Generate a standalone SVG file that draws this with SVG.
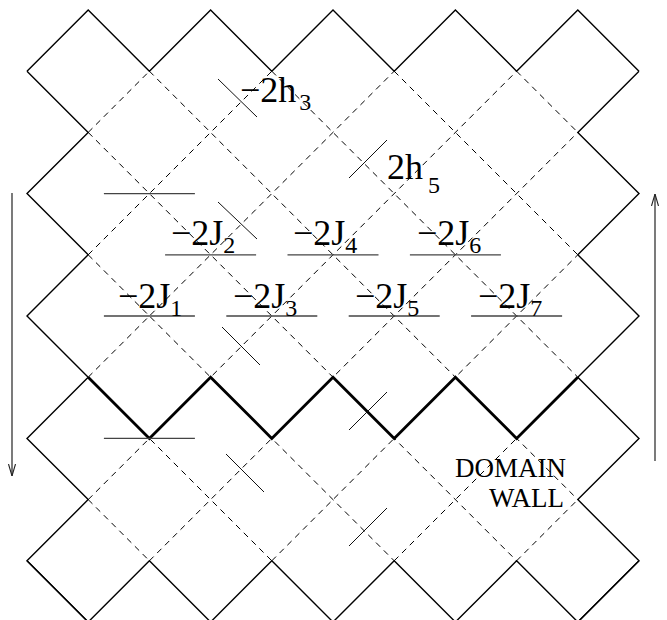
<svg xmlns="http://www.w3.org/2000/svg" width="667" height="620" viewBox="0 0 667 620">
<defs>
<style>
.edge{fill:none;stroke:#000;stroke-width:1.4;stroke-linejoin:miter}
.wall{fill:none;stroke:#000;stroke-width:2.8;stroke-linejoin:miter}
.dash{fill:none;stroke:#000;stroke-width:1;stroke-dasharray:6,5}
.bar{stroke:#444;stroke-width:1.3}
.tick{stroke:#111;stroke-width:1}
.arrow{stroke:#222;stroke-width:1.2;fill:none}
.lbl{font-family:"Liberation Serif","Times New Roman",serif;font-size:36px;fill:#000}
.sub{font-size:24px}
.dw{font-family:"Liberation Serif","Times New Roman",serif;font-size:27px;fill:#000}
</style>
<marker id="ah" markerWidth="12" markerHeight="10" refX="12" refY="5" orient="auto" markerUnits="userSpaceOnUse">
<path d="M0,1.5 L12,5 L0,8.5" fill="none" stroke="#222" stroke-width="1.1"/>
</marker>
</defs>
<g id="connectors">
<g id="dashed-lattice">
<line class="dash" x1="88.2" y1="499.6" x2="149.4" y2="560.8"/>
<line class="dash" x1="88.2" y1="377.2" x2="271.8" y2="560.8"/>
<line class="dash" x1="88.2" y1="254.8" x2="394.2" y2="560.8"/>
<line class="dash" x1="88.2" y1="132.4" x2="516.6" y2="560.8"/>
<line class="dash" x1="149.4" y1="71.2" x2="577.8" y2="499.6"/>
<line class="dash" x1="271.8" y1="71.2" x2="577.8" y2="377.2"/>
<line class="dash" x1="394.2" y1="71.2" x2="577.8" y2="254.8"/>
<line class="dash" x1="516.6" y1="71.2" x2="577.8" y2="132.4"/>
<line class="dash" x1="88.2" y1="132.4" x2="149.4" y2="71.2"/>
<line class="dash" x1="88.2" y1="254.8" x2="271.8" y2="71.2"/>
<line class="dash" x1="88.2" y1="377.2" x2="394.2" y2="71.2"/>
<line class="dash" x1="88.2" y1="499.6" x2="516.6" y2="71.2"/>
<line class="dash" x1="149.4" y1="560.8" x2="577.8" y2="132.4"/>
<line class="dash" x1="271.8" y1="560.8" x2="577.8" y2="254.8"/>
<line class="dash" x1="394.2" y1="560.8" x2="577.8" y2="377.2"/>
<line class="dash" x1="516.6" y1="560.8" x2="577.8" y2="499.6"/>
</g>
<g id="boundary">
<polyline class="edge" points="27,71.2 88.2,10 149.4,71.2 210.6,10 271.8,71.2 333,10 394.2,71.2 455.4,10 516.6,71.2 577.8,10 639,71.2"/>
<polyline class="edge" points="27,71.2 88.2,132.4 27,193.6 88.2,254.8 27,316 88.2,377.2 27,438.4 88.2,499.6 27,560.8 88.2,622"/>
<polyline class="edge" points="639,71.2 577.8,132.4 639,193.6 577.8,254.8 639,316 577.8,377.2 639,438.4 577.8,499.6 639,560.8 577.8,622"/>
<polyline class="edge" points="27,560.8 88.2,622 149.4,560.8 210.6,622 271.8,560.8 333,622 394.2,560.8 455.4,622 516.6,560.8 577.8,622 639,560.8"/>
</g>
<g id="domain-wall">
<polyline class="wall" points="88.2,377.2 149.4,438.4 210.6,377.2 271.8,438.4 333,377.2 394.2,438.4 455.4,377.2 516.6,438.4 577.8,377.2"/>
</g>
<g id="bars">
<line class="bar" x1="103.9" y1="193.6" x2="194.9" y2="193.6"/>
<line class="bar" x1="165.1" y1="254.8" x2="256.1" y2="254.8"/>
<line class="bar" x1="287.5" y1="254.8" x2="378.5" y2="254.8"/>
<line class="bar" x1="409.9" y1="254.8" x2="500.9" y2="254.8"/>
<line class="bar" x1="103.9" y1="316" x2="194.9" y2="316"/>
<line class="bar" x1="226.3" y1="316" x2="317.3" y2="316"/>
<line class="bar" x1="348.7" y1="316" x2="439.7" y2="316"/>
<line class="bar" x1="471.1" y1="316" x2="562.1" y2="316"/>
<line class="bar" x1="103.9" y1="438.4" x2="194.9" y2="438.4"/>
</g>
<g id="ticks">
<line class="tick" x1="218" y1="79" x2="257" y2="117"/>
<line class="tick" x1="349" y1="178" x2="387" y2="140"/>
<line class="tick" x1="218" y1="202" x2="257" y2="239"/>
<line class="tick" x1="222" y1="327" x2="260" y2="365"/>
<line class="tick" x1="349" y1="430" x2="387" y2="392"/>
<line class="tick" x1="226" y1="454" x2="264" y2="492"/>
<line class="tick" x1="349" y1="546" x2="387" y2="508"/>
</g>
<g id="arrows">
<line class="arrow" x1="12" y1="193" x2="12" y2="476" marker-end="url(#ah)"/>
<line class="arrow" x1="655" y1="461" x2="655" y2="194" marker-end="url(#ah)"/>
</g>
</g>
<g id="label-h3"><text class="lbl" x="240" y="102">−2h<tspan class="sub" dx="3" dy="8">3</tspan></text></g>
<g id="label-h5"><text class="lbl" x="387" y="179">2h<tspan class="sub" dx="5" dy="14">5</tspan></text></g>
<g id="label-J1"><text class="lbl" x="118" y="308">−2J<tspan class="sub" dy="8">1</tspan></text></g>
<g id="label-J2"><text class="lbl" x="171" y="245">−2J<tspan class="sub" dy="8">2</tspan></text></g>
<g id="label-J3"><text class="lbl" x="233" y="308">−2J<tspan class="sub" dy="8">3</tspan></text></g>
<g id="label-J4"><text class="lbl" x="293" y="245">−2J<tspan class="sub" dy="8">4</tspan></text></g>
<g id="label-J5"><text class="lbl" x="355" y="308">−2J<tspan class="sub" dy="8">5</tspan></text></g>
<g id="label-J6"><text class="lbl" x="417" y="245">−2J<tspan class="sub" dy="8">6</tspan></text></g>
<g id="label-J7"><text class="lbl" x="478" y="308">−2J<tspan class="sub" dy="8">7</tspan></text></g>
<g id="label-domain-wall">
<text class="dw" x="455" y="477">DOMAIN</text>
<text class="dw" x="489" y="507">WALL</text>
</g>
</svg>
